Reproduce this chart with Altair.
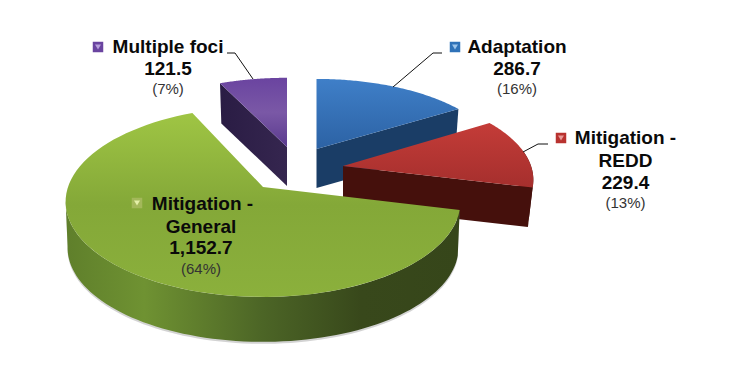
import math
import altair as alt
import pandas as pd

# Chart values
names = ["Adaptation", "Mitigation - REDD", "Mitigation - General", "Multiple foci"]
values = [286.7, 229.4, 1152.7, 121.5]
value_labels = ["286.7", "229.4", "1,152.7", "121.5"]
pct_labels = ["(16%)", "(13%)", "(64%)", "(7%)"]

# Slice styling and perspective layout: apex, radii, thickness, lower-rim scale
apex = [(316.5, 149), (343, 166), (263, 187), (287, 147)]
radii = [(182, 81), (188, 87), (195, 92.8), (185, 80)]
thick = [39, 40, 46, 39]
rims = [0.98, 0.975, 0.99, 0.98]
KP = 0.156

total = sum(values)
edges = [0.0]
for v in values:
    edges.append(edges[-1] + v / total * 360)


def pt(i, deg, down=0.0, scale=1.0):
    t = math.radians(deg)
    X, Y = math.sin(t), math.cos(t)
    a, b = radii[i]
    w = 1 + KP * Y
    return (apex[i][0] + scale * a * X / w, apex[i][1] - scale * b * Y / w + down)


def arc(i, d0, d1, down=0.0, scale=1.0, n=80):
    return [pt(i, d0 + (d1 - d0) * j / n, down, scale) for j in range(n + 1)]


def wedge(i):
    return [apex[i]] + arc(i, edges[i], edges[i + 1])


def rim(i, d0, d1, extra=0.0):
    return arc(i, d0, d1) + arc(i, d1, d0, thick[i] + extra, rims[i])


def cut(i, d):
    p, q = pt(i, d), pt(i, d, thick[i], rims[i])
    a = apex[i]
    return [a, p, q, (a[0], a[1] + thick[i])]


X = alt.X("x:Q", scale=alt.Scale(domain=[8, 733], nice=False, zero=False), axis=None)
Y = alt.Y("y:Q", scale=alt.Scale(domain=[367, 8], nice=False, zero=False), axis=None)


def grad(stops, horizontal=False):
    return alt.LinearGradient(
        gradient="linear",
        stops=[alt.GradientStop(offset=o, color=c) for o, c in stops],
        x1=0, y1=0, x2=1 if horizontal else 0, y2=0 if horizontal else 1,
    )


def poly(points, fill, opacity=1.0):
    df = pd.DataFrame({"x": [p[0] for p in points], "y": [p[1] for p in points],
                       "i": list(range(len(points)))})
    return alt.Chart(df).mark_line(fill=fill, fillOpacity=opacity, strokeOpacity=0, strokeWidth=0,
                                   interpolate="linear-closed").encode(
        x=X, y=Y, order=alt.Order("i:Q"))


A, R, G, M = 0, 1, 2, 3
layers = [
    poly(cut(M, edges[M]), grad([(0, "#2a1c44"), (1, "#35264f")], True)),
    poly(wedge(M), grad([(0, "#6a44a0"), (0.5, "#7a58a6"), (1, "#5a3a8e")])),
    poly(cut(A, edges[A + 1]), "#1a3d66"),
    poly(wedge(A), grad([(0, "#3f7fc8"), (1, "#2c62a4")])),
    poly(rim(R, 80, edges[R + 1]), "#45100c"),
    poly(cut(R, edges[R + 1]), "#45100c"),
    poly(wedge(R), grad([(0, "#c43c38"), (1, "#a52f2d")])),
    poly(rim(G, edges[G], 262, 2), "#808080", 0.35),
    poly(rim(G, edges[G], 262), grad([(0, "#5f7f2b"), (0.2, "#6f9232"), (0.5, "#4c6526"),
                                      (0.75, "#38481b"), (1, "#36461a")], True)),
    poly(wedge(G), grad([(0, "#9fc544"), (0.5, "#84a838"), (1, "#8bb03c")])),
]

# Leader lines
leaders = [
    [(393, 87), (433, 53), (442, 53)],
    [(523, 152), (538, 144), (548, 144)],
    [(253, 79), (235, 53), (227, 53)],
]
for ln in leaders:
    df = pd.DataFrame({"x": [p[0] for p in ln], "y": [p[1] for p in ln], "i": [0, 1, 2]})
    layers.append(alt.Chart(df).mark_line(color="#111111", strokeWidth=1).encode(x=X, y=Y, order=alt.Order("i:Q")))

# Legend-key markers
marker_colors = ["#2f72b8", "#b8322f", "#a3b85a", "#6a44a0"]
marker_tops = ["#9cc4ea", "#e89a98", "#e4f0a8", "#b8a0dc"]
marker_pos = [(455, 47), (561, 138), (137, 203), (98, 47)]
mdf = pd.DataFrame({"x": [p[0] for p in marker_pos], "y": [p[1] for p in marker_pos],
                    "c": marker_colors, "t": marker_tops, "n": names})
layers.append(alt.Chart(mdf).mark_square(size=110, opacity=1).encode(
    x=X, y=Y, color=alt.Color("c:N", scale=None)))
layers.append(alt.Chart(mdf).mark_point(shape="triangle-down", filled=True, size=36, opacity=1).encode(
    x=X, y=Y, color=alt.Color("t:N", scale=None)))

# Text blocks
rows = [
    ("Adaptation", 517, 47, True), (value_labels[0], 517, 69, True), (pct_labels[0], 517, 89, False),
    ("Mitigation -", 625.5, 138, True), ("REDD", 625.5, 161, True), (value_labels[1], 625.5, 183, True), (pct_labels[1], 625.5, 203, False),
    ("Mitigation -", 202.5, 204, True), ("General", 201, 227, True), (value_labels[2], 201, 248, True), (pct_labels[2], 201, 269, False),
    ("Multiple foci", 168, 47, True), (value_labels[3], 168, 69, True), (pct_labels[3], 168, 89, False),
]
tdf = pd.DataFrame(rows, columns=["s", "x", "y", "b"])
base_text = dict(font="Liberation Sans", align="center", baseline="middle")
layers.append(alt.Chart(tdf[tdf.b]).mark_text(fontSize=19, fontWeight="bold", color="#0a0a0a", **base_text).encode(
    x=X, y=Y, text="s:N"))
layers.append(alt.Chart(tdf[~tdf.b]).mark_text(fontSize=15, color="#333333", **base_text).encode(
    x=X, y=Y, text="s:N"))

chart = alt.layer(*layers).properties(
    width=725, height=359, padding=0, background="white",
    autosize=alt.AutoSizeParams(type="none"),
).configure_view(stroke=None)

chart.save("out.html", embed_options={"renderer": "svg", "actions": False})
